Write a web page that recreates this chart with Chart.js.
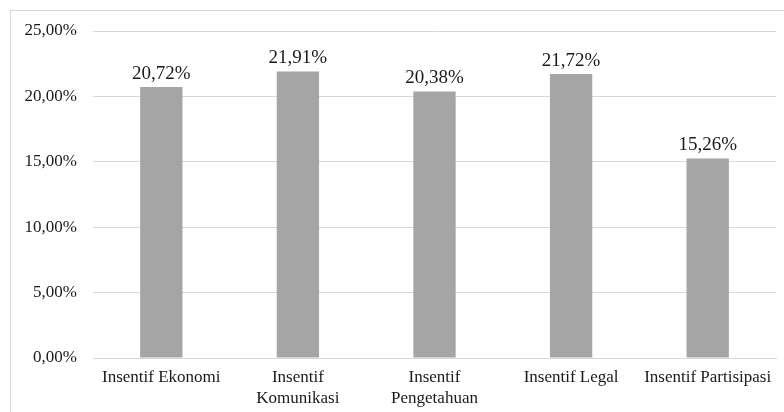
<!DOCTYPE html>
<html>
<head>
<meta charset="utf-8">
<script src="https://cdn.jsdelivr.net/npm/chart.js@4.4.1/dist/chart.umd.min.js"></script>
<style>
  body { margin: 0; background: #fff; overflow: hidden; }
  #frame { position: absolute; left: 10px; top: 10px; width: 800px; height: 420px; border: 1px solid #d9d9d9; box-sizing: border-box; }
  #chart { position: absolute; left: 0; top: 0; }
</style>
</head>
<body>
<div id="frame"></div>
<canvas id="chart" width="784" height="412"></canvas>
<script>
const categories = ['Insentif Ekonomi', ['Insentif', 'Komunikasi'], ['Insentif', 'Pengetahuan'], 'Insentif Legal', 'Insentif Partisipasi'];
const values = [20.72, 21.91, 20.38, 21.72, 15.26];
const yTicks = [0, 5, 10, 15, 20, 25];

const serif = '"Liberation Serif", "DejaVu Serif", serif';

function pct(v) {
    return v.toFixed(2).replace('.', ',') + '%';
}

// labels above each bar
const valueLabels = {
    id: 'valueLabels',
    afterDatasetsDraw(chart) {
        const ctx = chart.ctx;
        const meta = chart.getDatasetMeta(0);
        ctx.save();
        ctx.font = '19px ' + serif;
        ctx.fillStyle = '#1a1a1a';
        ctx.textAlign = 'center';
        ctx.textBaseline = 'alphabetic';
        meta.data.forEach((bar, i) => {
            ctx.fillText(pct(values[i]), bar.x, bar.y - 8);
        });
        ctx.restore();
    }
};

new Chart(document.getElementById('chart').getContext('2d'), {
    type: 'bar',
    data: {
        labels: categories,
        datasets: [{
            data: values,
            backgroundColor: '#a5a5a5',
            barPercentage: 0.31,
            categoryPercentage: 1
        }]
    },
    options: {
        responsive: false,
        animation: false,
        layout: { padding: { top: 31, right: 8, left: 0, bottom: 0 } },
        plugins: {
            legend: { display: false },
            tooltip: { enabled: false }
        },
        scales: {
            x: {
                grid: { display: false, drawTicks: false },
                border: { color: '#d9d9d9', width: 1 },
                ticks: {
                    color: '#1a1a1a',
                    font: { family: serif, size: 17, lineHeight: 1.18 },
                    padding: 10,
                    maxRotation: 0,
                    autoSkip: false
                },
                afterFit(scale) { scale.height = 54; }
            },
            y: {
                min: 0,
                max: 25,
                afterBuildTicks(scale) { scale.ticks = yTicks.map(v => ({ value: v })); },
                grid: { color: '#d9d9d9', drawTicks: false },
                border: { display: false },
                ticks: {
                    color: '#1a1a1a',
                    font: { family: serif, size: 17 },
                    padding: 16,
                    callback: v => pct(v)
                },
                afterFit(scale) { scale.width = 93; }
            }
        }
    },
    plugins: [valueLabels]
});
</script>
</body>
</html>
